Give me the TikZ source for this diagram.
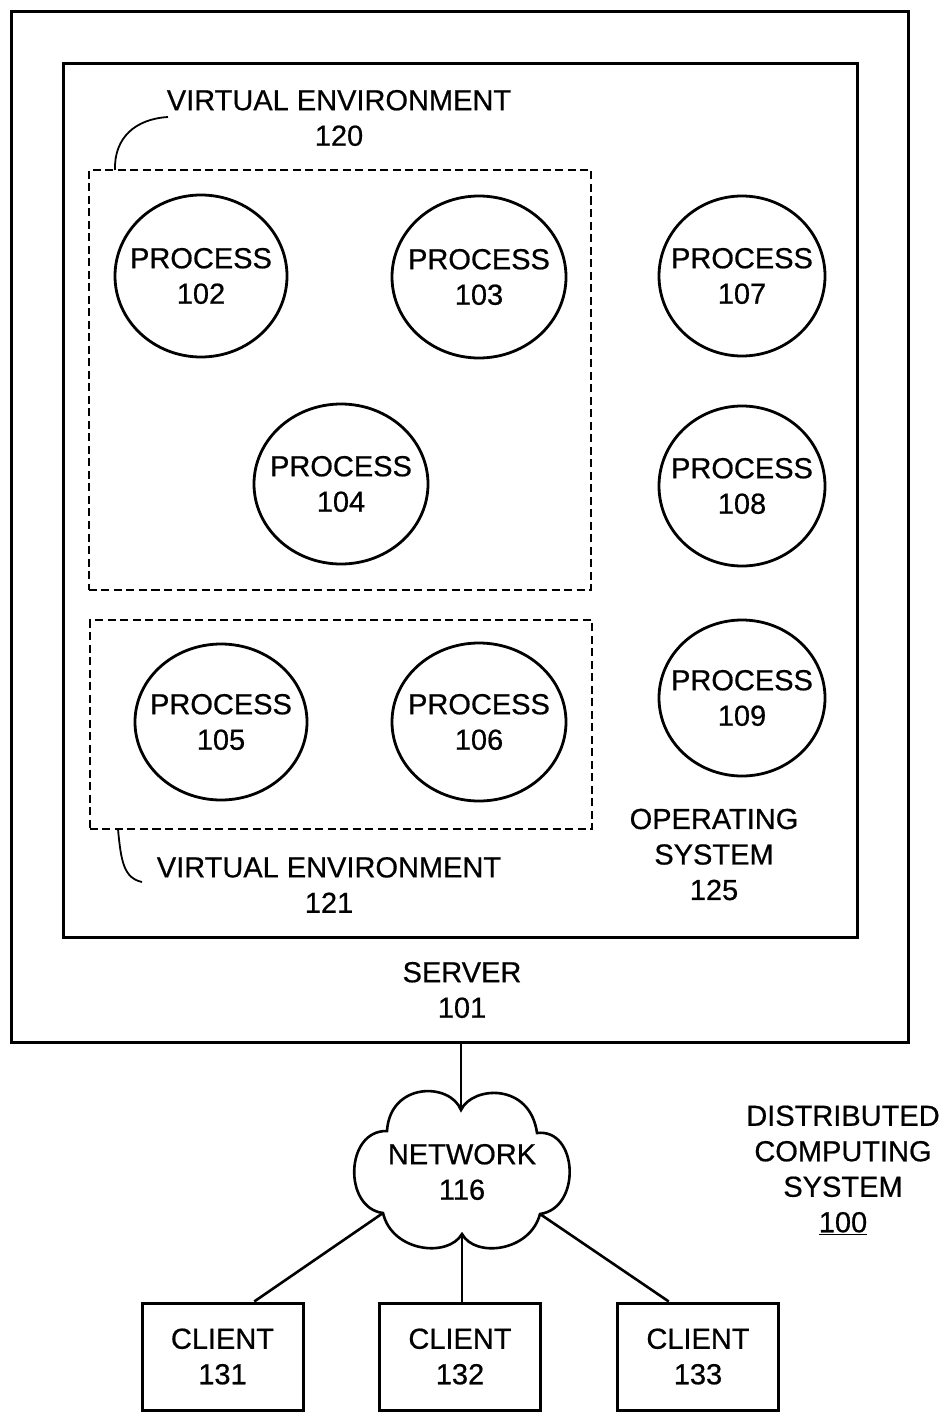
\documentclass[tikz,border=0pt]{standalone}
\usepackage{fontspec}
\setmainfont{Liberation Sans}[FakeBold=0.6]
\usetikzlibrary{shapes.geometric,calc}
\begin{document}
\begin{tikzpicture}[x=1bp,y=-1bp,
  every node/.style={font=\fontsize{29bp}{35.5bp}\selectfont, align=center, inner sep=0pt},
  frame/.style={draw, line width=3bp},
  vebox/.style={draw, line width=2.8bp, dash pattern=on 8bp off 4.5bp},
  proc/.style={draw, ellipse, line width=2.8bp, inner sep=0pt},
  client/.style={draw, rectangle, line width=3bp, minimum width=161bp, minimum height=107bp},
  wire/.style={line width=2.6bp},
  leader/.style={line width=1.8bp}]

\useasboundingbox (0,0) rectangle (939,1412);

% server and operating system frames
\node[frame, minimum width=896bp, minimum height=1030bp] (srv) at (460,527) {};
\node[frame, minimum width=793bp, minimum height=873bp] (os) at (460.5,500.5) {};
\node (srvlbl) at (462,990) {SERVER\\101};
\node (oslbl) at (714,854.5) {OPERATING\\SYSTEM\\125};

% virtual environments
\node[vebox, minimum width=502bp, minimum height=420bp] (ve120) at (340,380) {};
\node[vebox, minimum width=502bp, minimum height=209bp] (ve121) at (341,724.5) {};
\node (ve120lbl) at (339,118) {VIRTUAL ENVIRONMENT\\120};
\node (ve121lbl) at (329,885) {VIRTUAL ENVIRONMENT\\121};
\coordinate (l120a) at (168,117);
\coordinate (l120b) at (115,170);
\draw[leader] (l120a) .. controls (135,119) and (114,138) .. (l120b);
\coordinate (l121a) at (118,829);
\coordinate (l121b) at (142,882);
\draw[leader] (l121a) .. controls (121,862) and (124,878) .. (l121b);

% processes
\node[proc, minimum width=172bp, minimum height=162bp] (p102) at (201,276) {};
\node (p102t) at (p102) {PROCESS\\102};
\node[proc, minimum width=174bp, minimum height=162bp] (p103) at (479,277) {};
\node (p103t) at (p103) {PROCESS\\103};
\node[proc, minimum width=174bp, minimum height=160bp] (p104) at (341,484) {};
\node (p104t) at (p104) {PROCESS\\104};
\node[proc, minimum width=172bp, minimum height=156bp] (p105) at (221,722) {};
\node (p105t) at (p105) {PROCESS\\105};
\node[proc, minimum width=174bp, minimum height=158bp] (p106) at (479,722) {};
\node (p106t) at (p106) {PROCESS\\106};
\node[proc, minimum width=166bp, minimum height=160bp] (p107) at (742,276) {};
\node (p107t) at (p107) {PROCESS\\107};
\node[proc, minimum width=166bp, minimum height=160bp] (p108) at (742,486) {};
\node (p108t) at (p108) {PROCESS\\108};
\node[proc, minimum width=166bp, minimum height=156bp] (p109) at (742,698) {};
\node (p109t) at (p109) {PROCESS\\109};

% network cloud
\coordinate (nT) at (461,1110);
\coordinate (nA) at (387,1131);
\coordinate (nB) at (537,1133);
\coordinate (nL) at (383,1213);
\coordinate (nM) at (462,1234);
\coordinate (nR) at (540,1214);
\draw[wire] (nT) .. controls (472,1086) and (530,1082) .. (nB)
  .. controls (578,1128) and (582,1208) .. (nR)
  .. controls (530,1252) and (475,1258) .. (nM)
  .. controls (448,1258) and (392,1252) .. (nL)
  .. controls (343,1208) and (345,1130) .. (nA)
  .. controls (390,1082) and (450,1082) .. (nT) -- cycle;
\node (net) at (462,1172) {NETWORK\\116};

% clients
\node[client] (c131) at (222.5,1356.5) {CLIENT\\131};
\node[client] (c132) at (460,1356.5) {CLIENT\\132};
\node[client] (c133) at (698,1356.5) {CLIENT\\133};

% links
\draw[wire] (srv.south -| nT) -- (nT);
\draw[wire] (nL) -- (c131.60);
\draw[wire] (nM) -- (c132.north -| nM);
\draw[wire] (nR) -- (c133.118);

\node (dcs) at (843,1170) {DISTRIBUTED\\COMPUTING\\SYSTEM\\\underline{100}};
\end{tikzpicture}
\end{document}
